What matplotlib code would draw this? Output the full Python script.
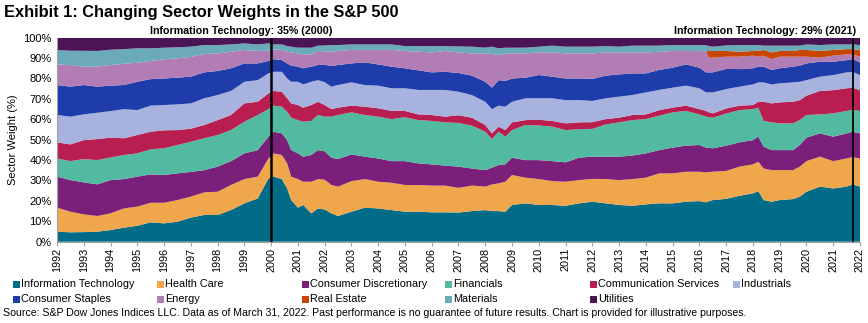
import numpy as np
import matplotlib
matplotlib.use("Agg")
import matplotlib.pyplot as plt
from matplotlib.patches import Rectangle

plt.rcParams['font.family'] = ['Liberation Sans', 'DejaVu Sans']

years = [1992, 1992.5, 1993, 1993.5, 1994, 1994.5, 1995, 1995.5, 1996, 1996.5,
         1997, 1997.5, 1998, 1998.5, 1999, 1999.5, 1999.9, 2000.1, 2000.4, 2000.6,
         2000.75, 2001, 2001.2, 2001.5, 2001.75, 2002, 2002.25, 2002.5, 2003, 2003.5,
         2004, 2004.5, 2005, 2005.5, 2006, 2006.5, 2007, 2007.5, 2008, 2008.25,
         2008.5, 2008.75, 2009, 2009.5, 2010, 2010.5, 2011, 2011.5, 2012, 2012.5,
         2013, 2013.5, 2014, 2014.5, 2015, 2015.5, 2016, 2016.25, 2016.35, 2016.5,
         2017, 2017.5, 2018, 2018.2, 2018.4, 2018.7, 2019, 2019.5, 2019.75, 2020,
         2020.5, 2021, 2021.5, 2021.72, 2022]

info_tech = [4.9, 4.6, 4.7, 4.9, 5.7, 6.9, 7.8, 9.5, 9.0, 9.8,
             11.8, 13.1, 13.1, 15.5, 18.8, 21.2, 31.0, 31.9, 30.7, 26.1,
             20.4, 16.7, 18.0, 13.9, 16.3, 15.8, 13.9, 12.6, 14.7, 16.7,
             16.3, 15.5, 14.7, 14.7, 14.4, 14.4, 14.3, 15.0, 15.5, 15.0,
             15.0, 14.7, 18.0, 18.8, 18.0, 18.0, 17.6, 18.8, 19.6, 18.8,
             18.0, 17.6, 18.3, 18.8, 18.8, 19.6, 19.9, 19.3, 19.8, 20.4,
             21.0, 22.5, 23.7, 24.8, 20.4, 19.6, 20.4, 20.9, 22.1, 24.5,
             27.0, 26.1, 27.0, 28.1, 27.0]
health_care = [11.8, 10.1, 8.7, 7.7, 8.2, 9.4, 9.4, 9.6, 10.1, 10.6,
               10.3, 11.1, 11.4, 12.3, 11.9, 10.7, 9.8, 11.4, 11.8, 12.3,
               11.5, 14.0, 11.4, 15.5, 14.4, 14.6, 13.9, 14.4, 15.0, 14.0,
               13.1, 13.4, 13.1, 13.1, 13.1, 13.1, 12.1, 12.5, 11.5, 13.1,
               13.6, 14.7, 14.7, 12.6, 12.7, 11.7, 11.8, 11.4, 11.2, 11.9,
               12.2, 13.1, 13.1, 14.7, 14.7, 14.7, 14.4, 14.7, 14.4, 13.9,
               13.7, 14.3, 14.2, 14.4, 15.5, 15.5, 14.7, 14.2, 14.7, 15.0,
               14.7, 13.4, 13.8, 13.4, 13.8]
cons_disc = [15.2, 15.5, 15.7, 15.5, 16.3, 14.4, 14.7, 13.9, 13.6, 13.1,
             12.1, 10.9, 12.3, 11.7, 12.6, 13.0, 10.7, 10.6, 10.6, 11.4,
             13.0, 12.6, 12.3, 13.1, 14.2, 13.9, 13.4, 13.5, 13.1, 11.0,
             11.4, 10.6, 11.7, 10.6, 10.4, 9.8, 10.4, 8.4, 8.1, 8.2,
             9.0, 8.5, 8.5, 8.6, 9.3, 9.8, 9.5, 11.0, 10.9, 11.0,
             11.5, 11.5, 11.9, 11.4, 12.6, 12.8, 13.1, 12.1, 11.8, 11.5,
             12.4, 11.9, 11.9, 12.3, 10.7, 9.8, 9.8, 9.8, 10.6, 11.5,
             11.4, 12.0, 12.3, 12.4, 12.3]
financials = [8.9, 9.3, 11.4, 11.9, 11.1, 11.8, 11.4, 12.3, 13.1, 13.9,
              14.8, 15.6, 15.5, 15.2, 15.5, 17.2, 13.5, 12.8, 13.1, 13.9,
              15.9, 16.3, 17.1, 16.7, 17.2, 17.0, 20.1, 21.6, 20.6, 20.4,
              20.5, 20.6, 21.5, 21.2, 21.3, 21.2, 21.4, 21.0, 18.8, 14.0,
              16.3, 13.6, 13.5, 17.2, 17.0, 16.9, 15.8, 14.0, 13.6, 15.8,
              16.8, 17.4, 16.8, 16.9, 17.3, 17.0, 15.0, 15.2, 15.0, 15.0,
              15.7, 15.8, 15.2, 14.2, 12.6, 13.6, 13.1, 13.1, 12.2, 11.1,
              9.3, 11.4, 11.0, 10.8, 11.0]
comm_services = [7.9, 8.2, 9.3, 10.3, 9.7, 8.2, 9.0, 8.6, 8.8, 7.3,
                 6.4, 6.5, 7.3, 7.4, 9.0, 6.5, 7.7, 7.2, 7.3, 6.6,
                 7.0, 7.4, 6.9, 7.8, 6.5, 5.7, 3.7, 3.6, 3.3, 4.1,
                 4.1, 4.0, 3.1, 2.8, 2.9, 2.8, 3.8, 3.9, 3.3, 2.8,
                 2.5, 3.2, 3.8, 2.4, 2.8, 2.8, 3.3, 3.3, 3.3, 2.6,
                 2.3, 2.5, 2.3, 2.7, 2.3, 2.6, 2.6, 2.8, 2.5, 2.1,
                 2.5, 2.2, 2.0, 2.9, 9.4, 9.3, 10.3, 10.6, 9.8, 9.5,
                 11.5, 11.4, 11.1, 10.8, 10.2]
industrials = [13.4, 13.6, 12.6, 12.9, 13.0, 14.3, 12.2, 12.8, 12.4, 12.6,
               12.4, 13.1, 12.3, 11.8, 10.6, 10.6, 9.8, 9.4, 9.8, 9.7,
               10.6, 11.4, 11.4, 11.4, 10.6, 11.2, 11.0, 11.1, 11.4, 10.6,
               11.1, 11.1, 11.1, 12.0, 12.3, 13.1, 11.5, 11.1, 11.4, 11.9,
               10.3, 11.5, 10.1, 10.7, 10.5, 11.1, 11.4, 10.9, 10.4, 10.2,
               10.3, 9.8, 10.8, 9.9, 9.8, 9.8, 10.2, 9.1, 9.7, 10.3,
               9.5, 9.3, 10.1, 9.5, 9.5, 9.3, 9.3, 9.5, 9.0, 7.6,
               7.0, 7.4, 7.8, 7.8, 7.4]
cons_staples = [14.7, 14.7, 14.4, 12.8, 12.5, 11.8, 13.9, 13.0, 13.0, 13.1,
                13.1, 12.7, 11.8, 11.1, 9.0, 8.2, 6.1, 6.2, 5.7, 7.4,
                7.9, 7.4, 7.9, 7.4, 7.4, 8.5, 10.1, 9.8, 9.3, 11.1,
                10.4, 10.6, 9.8, 9.6, 8.6, 8.9, 9.2, 9.5, 9.8, 10.5,
                12.5, 12.6, 11.4, 10.1, 11.4, 10.6, 10.6, 10.6, 10.8, 11.1,
                10.9, 10.6, 9.3, 9.8, 9.8, 10.4, 10.1, 9.8, 9.8, 9.8,
                9.9, 8.6, 7.9, 7.7, 7.7, 7.1, 7.4, 7.7, 7.9, 8.2,
                7.3, 6.5, 6.0, 6.2, 6.2]
energy = [10.1, 10.6, 9.0, 9.8, 10.1, 10.5, 9.3, 8.9, 9.4, 9.5,
          9.7, 9.0, 8.6, 8.1, 6.6, 6.1, 5.0, 4.8, 5.0, 5.7,
          6.5, 6.5, 6.8, 6.0, 6.9, 6.6, 7.0, 6.9, 6.6, 6.1,
          7.1, 8.2, 8.5, 9.1, 9.8, 10.2, 10.1, 10.9, 13.9, 16.5,
          12.3, 13.5, 12.3, 11.9, 11.1, 11.9, 12.3, 12.3, 12.5, 11.4,
          10.8, 10.3, 10.3, 8.9, 8.2, 6.6, 8.2, 10.3, 7.2, 7.2,
          6.0, 6.1, 6.2, 4.9, 5.4, 5.3, 5.7, 4.9, 4.4, 3.3,
          2.0, 3.0, 2.8, 2.3, 2.8]
real_estate = [0, 0, 0, 0, 0, 0, 0, 0, 0, 0,
               0, 0, 0, 0, 0, 0, 0, 0, 0, 0,
               0, 0, 0, 0, 0, 0, 0, 0, 0, 0,
               0, 0, 0, 0, 0, 0, 0, 0, 0, 0,
               0, 0, 0, 0, 0, 0, 0, 0, 0, 0,
               0, 0, 0, 0, 0, 0, 0, 0, 3.3, 3.3,
               2.8, 2.4, 2.3, 2.8, 2.8, 3.3, 2.8, 2.8, 3.3, 3.3,
               3.3, 2.8, 2.6, 2.6, 3.3]
materials = [7.1, 7.0, 7.8, 7.7, 7.5, 7.1, 7.1, 6.2, 5.7, 5.4,
             5.0, 4.4, 4.1, 3.6, 3.2, 3.2, 3.6, 2.4, 2.7, 2.8,
             2.8, 2.8, 3.3, 3.3, 2.6, 2.9, 3.3, 2.9, 2.7, 2.7,
             2.7, 2.7, 2.4, 2.8, 3.1, 2.4, 2.9, 3.3, 2.8, 3.6,
             3.3, 2.8, 2.8, 2.8, 2.8, 3.3, 3.3, 3.3, 3.3, 3.1,
             2.8, 3.3, 3.3, 3.0, 2.9, 2.9, 2.9, 3.1, 2.4, 2.1,
             2.7, 3.3, 2.9, 2.9, 2.1, 3.3, 2.6, 2.6, 2.1, 2.7,
             2.9, 2.7, 2.3, 2.3, 2.4]
utilities = [6.0, 6.4, 6.4, 6.5, 5.9, 5.6, 5.2, 5.2, 4.9, 4.7,
             4.4, 3.6, 3.6, 3.3, 2.8, 3.3, 2.8, 3.3, 3.3, 4.1,
             4.4, 4.9, 4.9, 4.9, 3.9, 3.8, 3.6, 3.6, 3.3, 3.3,
             3.3, 3.3, 4.1, 4.1, 4.1, 4.1, 4.3, 4.4, 4.9, 4.4,
             5.2, 4.9, 4.9, 4.9, 4.4, 3.9, 4.4, 4.4, 4.4, 4.1,
             4.4, 3.9, 3.9, 3.9, 3.6, 3.6, 3.6, 3.6, 4.1, 4.4,
             3.8, 3.6, 3.6, 3.6, 3.9, 3.9, 3.9, 3.9, 3.9, 3.3,
             3.6, 3.3, 3.3, 3.3, 3.6]

sector_names = ["Information Technology", "Health Care", "Consumer Discretionary",
                "Financials", "Communication Services", "Industrials",
                "Consumer Staples", "Energy", "Real Estate", "Materials", "Utilities"]
sector_colors = ["#006C87", "#F0A64B", "#7A207A", "#52BAA0", "#B91E50", "#A8B2DE",
                 "#1E3CAA", "#B27DB4", "#C84600", "#6AAAB9", "#4B1455"]

tick_years = list(range(1992, 2023))
y_ticks = list(range(0, 101, 10))
y_ticklabels = [f"{v}%" for v in y_ticks]

series = np.array([info_tech, health_care, cons_disc, financials, comm_services,
                   industrials, cons_staples, energy, real_estate, materials, utilities],
                  dtype=float)
series = series / series.sum(axis=0) * 100.0

W, H = 868, 323
fig = plt.figure(figsize=(W / 100, H / 100), dpi=100)
ax = fig.add_axes([57 / W, 1 - 241.7 / H, (860 - 57) / W, (241.7 - 37.7) / H])

ax.stackplot(years, series, colors=sector_colors, linewidth=0, antialiased=True)

ax.set_xlim(1992, 2022)
ax.set_ylim(0, 100)
ax.set_yticks(y_ticks)
ax.set_yticklabels(y_ticklabels, fontsize=8)
ax.tick_params(axis='y', length=0, pad=4)
ax.set_xticks(tick_years)
ax.set_xticklabels([str(y) for y in tick_years], rotation=90, fontsize=7.8)
ax.tick_params(axis='x', length=3, color='#A0A0A0', pad=1.5)
for s in ['top', 'right']:
    ax.spines[s].set_visible(False)
for s in ['left', 'bottom']:
    ax.spines[s].set_color('#A0A0A0')
    ax.spines[s].set_linewidth(0.8)
ax.set_ylabel("Sector Weight (%)", fontsize=8, labelpad=4)

ax.axvline(2000.0, color='black', linewidth=1.8, ymin=0, ymax=1)
ax.axvline(2021.72, color='black', linewidth=1.3, ymin=0, ymax=1)

ax.text(2002.3, 101.8, "Information Technology: 35% (2000)", ha='right', va='baseline',
        fontsize=7.7, fontweight='bold', clip_on=False)
ax.text(2021.85, 101.8, "Information Technology: 29% (2021)", ha='right', va='baseline',
        fontsize=7.7, fontweight='bold', clip_on=False)

fig.text(4 / W, 1 - 16.7 / H, "Exhibit 1: Changing Sector Weights in the S&P 500",
         fontsize=11.8, fontweight='bold', ha='left', va='baseline')

# legend laid out on a fixed grid
col_x = [13, 157, 302, 445, 590, 733]
row_y = [284, 299]
sq = 7
for i, (name, col) in enumerate(zip(sector_names, sector_colors)):
    r, c = divmod(i, 6)
    x0 = col_x[c]
    yc = row_y[r]
    fig.patches.append(Rectangle((x0 / W, 1 - (yc + sq / 2) / H), sq / W, sq / H,
                                 transform=fig.transFigure, facecolor=col,
                                 edgecolor='none'))
    fig.text((x0 + sq + 1) / W, 1 - yc / H, name, fontsize=7.8, ha='left', va='center')

fig.text(3 / W, 1 - 313 / H,
         "Source: S&P Dow Jones Indices LLC. Data as of March 31, 2022. Past performance is no guarantee of future results. Chart is provided for illustrative purposes.",
         fontsize=7.6, ha='left', va='center')

fig.savefig("out.png", dpi=100)
